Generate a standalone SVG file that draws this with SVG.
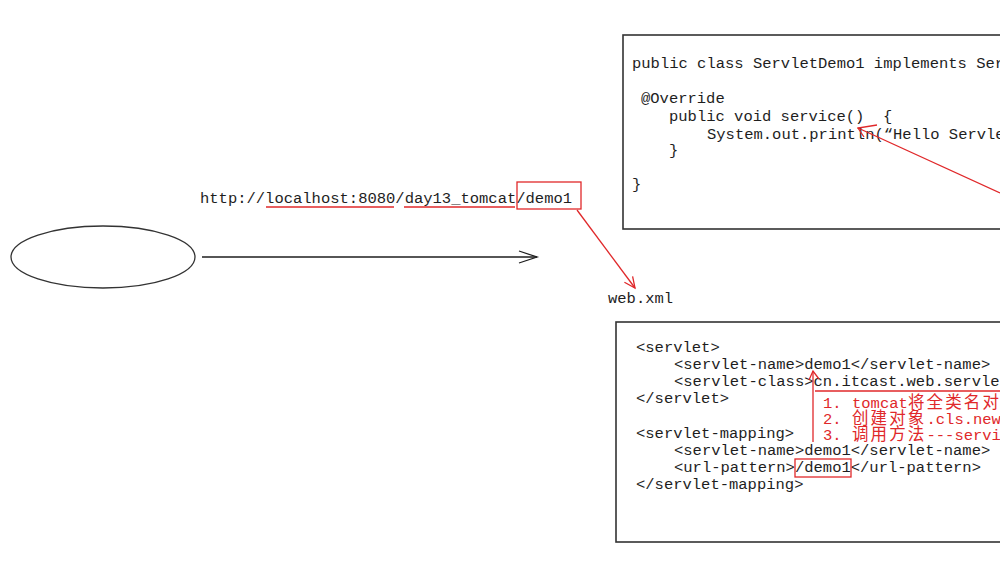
<svg xmlns="http://www.w3.org/2000/svg" width="1000" height="569" viewBox="0 0 1000 569">
  <style>
    .code { font-family: "Liberation Mono", "Noto Sans CJK SC", monospace; font-size: 15.5px; fill: #1e1e1e; white-space: pre; }
    .red { font-family: "Liberation Mono", "Noto Sans CJK SC", monospace; font-size: 15.5px; fill: #e0282a; }
    .cjk { font-family: "Noto Sans CJK SC", sans-serif; font-size: 16.5px; letter-spacing: 2.1px; }
    .box { fill: #ffffff; stroke: #333333; stroke-width: 1.6; }
    .ln { fill: none; stroke: #1e1e1e; stroke-width: 1.3; }
    .rl { fill: none; stroke: #e0282a; stroke-width: 1.3; }
  </style>
  <rect width="1000" height="569" fill="#ffffff"/>

  <g id="client">
    <ellipse cx="103" cy="257" rx="92" ry="31" fill="none" stroke="#333333" stroke-width="1.3"/>
  </g>

  <g id="url">
    <text class="code" x="200" y="203">http://localhost:8080/day13_tomcat/demo1</text>
    <line class="rl" x1="266" y1="207" x2="394" y2="207"/>
    <line class="rl" x1="404" y1="207" x2="515" y2="207"/>
    <rect class="rl" x="517" y="182" width="64" height="27"/>
  </g>

  <g id="servlet-code">
    <rect class="box" x="623" y="35" width="400" height="194"/>
    <text class="code" x="632" y="68">public class ServletDemo1 implements Ser</text>
    <text class="code" x="641" y="103">@Override</text>
    <text class="code" x="669" y="121" xml:space="preserve">public void service()  {</text>
    <text class="code" x="707" y="139">System.out.println(“Hello Servle</text>
    <text class="code" x="669" y="155">}</text>
    <text class="code" x="632" y="189">}</text>
  </g>

  <g id="web-xml-label">
    <text class="code" x="608" y="303">web.xml</text>
  </g>

  <g id="web-xml">
    <rect class="box" x="616" y="322" width="400" height="220"/>
    <text class="code" x="636" y="352">&lt;servlet&gt;</text>
    <text class="code" x="674" y="369">&lt;servlet-name&gt;demo1&lt;/servlet-name&gt;</text>
    <text class="code" x="674" y="386">&lt;servlet-class&gt;cn.itcast.web.servle</text>
    <text class="code" x="636" y="403">&lt;/servlet&gt;</text>
    <text class="code" x="636" y="438">&lt;servlet-mapping&gt;</text>
    <text class="code" x="674" y="455">&lt;servlet-name&gt;demo1&lt;/servlet-name&gt;</text>
    <text class="code" x="674" y="472">&lt;url-pattern&gt;/demo1&lt;/url-pattern&gt;</text>
    <text class="code" x="636" y="489">&lt;/servlet-mapping&gt;</text>
    <rect class="rl" x="795" y="459" width="56" height="18"/>
    <line class="rl" x1="815" y1="391" x2="1000" y2="391"/>
    <text class="red" y="408"><tspan x="823">1.</tspan><tspan x="852">tomcat</tspan><tspan class="cjk" x="908">将全类名对应</tspan></text>
    <text class="red" y="424"><tspan x="823">2.</tspan><tspan class="cjk" x="852">创建对象</tspan><tspan x="926.5">.cls.newI</tspan></text>
    <text class="red" y="440"><tspan x="823">3.</tspan><tspan class="cjk" x="852">调用方法</tspan><tspan x="926.5">---servic</tspan></text>
  </g>

  <g id="connectors">
    <line class="ln" x1="202" y1="257" x2="537" y2="257"/>
    <polyline class="ln" points="519,251 537,257 519,263"/>
    <line class="rl" x1="577" y1="210" x2="635" y2="288"/>
    <polyline class="rl" points="632.6,276.3 635,288 624.4,282.3"/>
    <line class="rl" x1="1000" y1="193" x2="858" y2="128"/>
    <polyline class="rl" points="877,125 858,128 864,137"/>
    <line class="rl" x1="813" y1="442" x2="813" y2="371"/>
    <polyline class="rl" points="809,380 813,371 819,379"/>
  </g>
</svg>
